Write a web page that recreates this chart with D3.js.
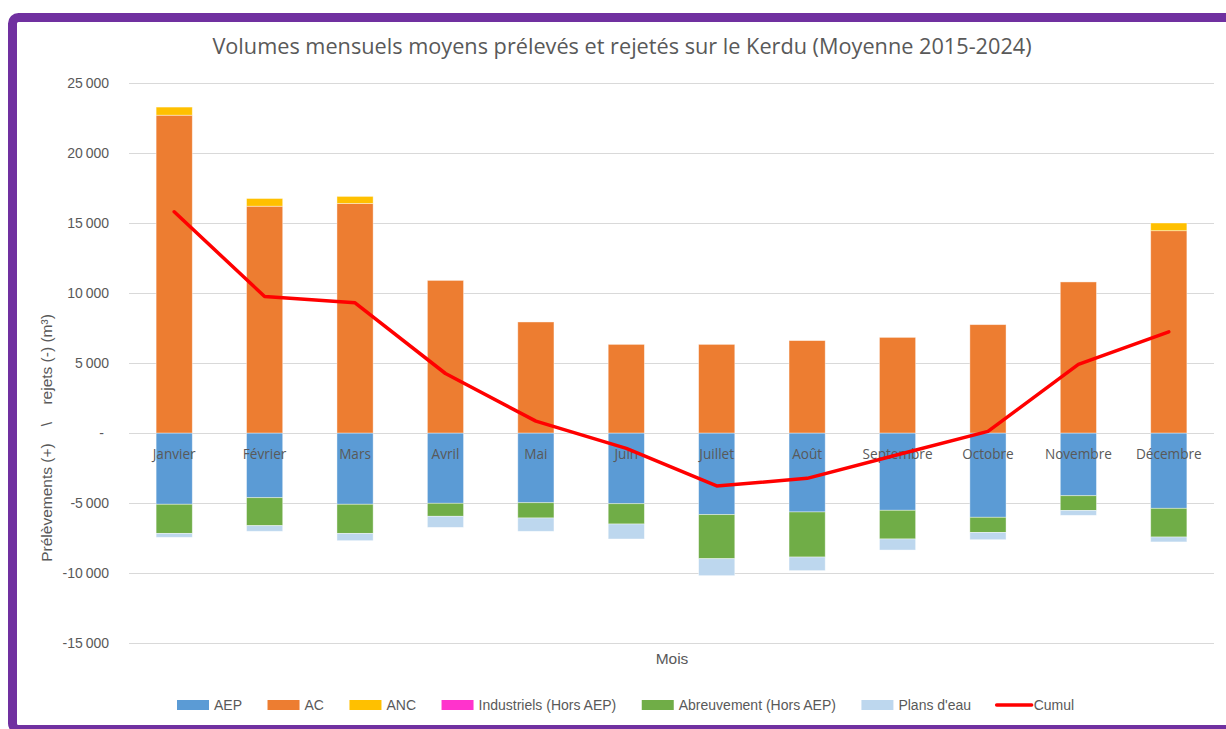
<!DOCTYPE html>
<html>
<head>
<meta charset="utf-8">
<script src="https://cdn.jsdelivr.net/npm/d3@7"></script>
<style>
  body { margin: 0; background: #fff; }
  text { fill: #595959; }
</style>
</head>
<body>
<svg id="chart" width="1226" height="729"></svg>
<script>
// données (m3)
const months = ['Janvier', 'Février', 'Mars', 'Avril', 'Mai', 'Juin', 'Juillet', 'Août', 'Septembre', 'Octobre', 'Novembre', 'Décembre'];
const aep = [-5090, -4620, -5090, -5020, -4980, -5050, -5830, -5640, -5520, -6020, -4480, -5380];
const ac = [22700, 16200, 16400, 10900, 7930, 6330, 6330, 6600, 6830, 7740, 10790, 14450];
const anc = [580, 550, 500, 0, 0, 0, 0, 0, 0, 0, 0, 550];
const industriels = [0, 0, 0, 0, 0, 0, 0, 0, 0, 0, 0, 0];
const abreuvement = [-2080, -2000, -2080, -930, -1090, -1450, -3150, -3220, -2050, -1080, -1050, -2050];
const plansEau = [-280, -400, -520, -790, -950, -1070, -1210, -970, -790, -520, -350, -350];
const cumul = [15800, 9750, 9300, 4250, 850, -1100, -3780, -3240, -1550, 120, 4900, 7230];
const yTicks = [25000, 20000, 15000, 10000, 5000, 0, -5000, -10000, -15000];

const seriesNames = ['AEP', 'AC', 'ANC', 'Industriels (Hors AEP)', 'Abreuvement (Hors AEP)', "Plans d'eau"];
const seriesValues = [aep, ac, anc, industriels, abreuvement, plansEau];
const colors = ['#5b9bd5', '#ed7d31', '#ffc000', '#ff33cc', '#70ad47', '#bdd7ee'];

const svg = d3.select('#chart');

// cadre violet
svg.append('rect')
  .attr('x', 12.5).attr('y', 17.5)
  .attr('width', 1240).attr('height', 712)
  .attr('rx', 6)
  .attr('fill', '#fff')
  .attr('stroke', '#7030a0')
  .attr('stroke-width', 9);

const plot = { left: 129, right: 1214, top: 83, bottom: 643 };

const x = d3.scaleBand()
  .domain(months)
  .range([plot.left, plot.right])
  .paddingInner(0.6)
  .paddingOuter(0.3);

const y = d3.scaleLinear()
  .domain([-15000, 25000])
  .range([plot.bottom, plot.top]);

const fmt = (v) => {
  if (v === 0) return '-';
  return d3.format(',')(v).replace(/,/g, '\u2009').replace('−', '-');
};

// grille
svg.append('g')
  .selectAll('line')
  .data(yTicks)
  .enter()
  .append('line')
  .attr('x1', plot.left)
  .attr('x2', plot.right)
  .attr('y1', d => Math.round(y(d)) + 0.5)
  .attr('y2', d => Math.round(y(d)) + 0.5)
  .attr('stroke', '#d9d9d9')
  .attr('stroke-width', 1);

svg.append('g')
  .selectAll('text')
  .data(yTicks)
  .enter()
  .append('text')
  .attr('x', d => (d === 0 ? 104 : 109))
  .attr('y', d => y(d))
  .attr('dy', '0.35em')
  .attr('text-anchor', 'end')
  .style('font-family', 'Liberation Sans, Arial, sans-serif')
  .style('font-size', '14px')
  .text(fmt);

// barres empilées
const rows = months.map((m, i) => {
  const r = { month: m };
  seriesNames.forEach((s, k) => { r[s] = seriesValues[k][i]; });
  return r;
});

const stacked = d3.stack()
  .keys(seriesNames)
  .offset(d3.stackOffsetDiverging)(rows);

svg.append('g')
  .selectAll('g')
  .data(stacked)
  .enter()
  .append('g')
  .attr('fill', (d, i) => colors[i])
  .selectAll('rect')
  .data(d => d.filter(e => e[1] !== e[0]))
  .enter()
  .append('rect')
  .attr('x', d => x(d.data.month))
  .attr('width', x.bandwidth())
  .attr('y', d => y(Math.max(d[0], d[1])))
  .attr('height', d => Math.abs(y(d[0]) - y(d[1])))
  .attr('stroke', '#fff')
  .attr('stroke-opacity', 0.5)
  .attr('stroke-width', 0.8);

// étiquettes des mois
svg.append('g')
  .selectAll('text')
  .data(months)
  .enter()
  .append('text')
  .attr('x', d => x(d) + x.bandwidth() / 2)
  .attr('y', 459)
  .attr('text-anchor', 'middle')
  .style('font-family', 'Open Sans, sans-serif')
  .style('font-size', '13.6px')
  .text(d => d);

// courbe cumul
const line = d3.line()
  .x((d, i) => x(months[i]) + x.bandwidth() / 2)
  .y(d => y(d));

svg.append('path')
  .datum(cumul)
  .attr('d', line)
  .attr('fill', 'none')
  .attr('stroke', '#ff0000')
  .attr('stroke-width', 3.5)
  .attr('stroke-linejoin', 'round')
  .attr('stroke-linecap', 'round');

// titres
svg.append('text')
  .attr('x', 622)
  .attr('y', 54)
  .attr('text-anchor', 'middle')
  .style('font-family', 'Open Sans, sans-serif')
  .style('font-size', '21.7px')
  .text('Volumes mensuels moyens prélevés et rejetés sur le Kerdu (Moyenne 2015-2024)');

svg.append('text')
  .attr('transform', 'translate(52,438) rotate(-90)')
  .attr('text-anchor', 'middle')
  .style('font-family', 'Liberation Sans, Arial, sans-serif')
  .style('font-size', '15.5px')
  .style('white-space', 'pre')
  .text('Prélèvements (+)    \\    rejets (-) (m³)');

svg.append('text')
  .attr('x', 672)
  .attr('y', 664)
  .attr('text-anchor', 'middle')
  .style('font-family', 'Liberation Sans, Arial, sans-serif')
  .style('font-size', '15.5px')
  .text('Mois');

// légende
const legendItems = seriesNames.concat(['Cumul']);
const legendColors = colors.concat(['#ff0000']);
const legend = svg.append('g');
let lx = 177;
legendItems.forEach((name, i) => {
  if (name === 'Cumul') {
    legend.append('line')
      .attr('x1', lx).attr('x2', lx + 35)
      .attr('y1', 705).attr('y2', 705)
      .attr('stroke', legendColors[i])
      .attr('stroke-width', 3.5)
      .attr('stroke-linecap', 'round');
  } else {
    legend.append('rect')
      .attr('x', lx).attr('y', 700)
      .attr('width', 32).attr('height', 10)
      .attr('fill', legendColors[i]);
  }
  const t = legend.append('text')
    .attr('x', lx + 37)
    .attr('y', 710)
    .style('font-family', 'Liberation Sans, Arial, sans-serif')
    .style('font-size', '14px')
    .text(name);
  lx += 37 + t.node().getComputedTextLength() + 25.5;
});
</script>
</body>
</html>
